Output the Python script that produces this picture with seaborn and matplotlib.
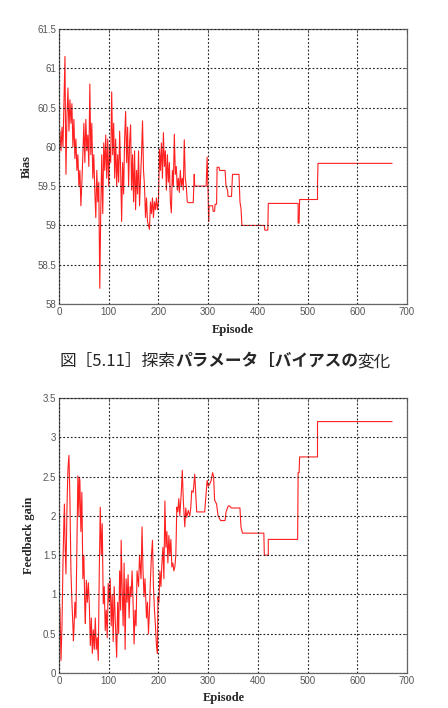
import numpy as np
import pandas as pd
import matplotlib
matplotlib.use('Agg')
import matplotlib.pyplot as plt
import seaborn as sns
from matplotlib.offsetbox import TextArea, HPacker, AnchoredOffsetbox

# Bias (top panel)
bias_ep = [0, 2, 4, 6, 8, 10, 12, 13, 14, 16, 18, 20, 22, 24, 26, 28, 30, 32, 34, 36,
           38, 40, 42, 44, 46, 48, 50, 52, 54, 56, 58, 60, 62, 64, 66, 68, 70, 72, 74, 76,
           78, 80, 82, 84, 86, 88, 90, 92, 94, 96, 98, 100, 102, 104, 106, 108, 110, 112, 114, 116,
           118, 120, 122, 124, 126, 128, 130, 132, 134, 136, 138, 140, 142, 144, 146, 148, 150, 152, 154, 156,
           158, 160, 162, 164, 166, 168, 170, 172, 174, 176, 178, 180, 182, 184, 186, 188, 190, 192, 194, 196,
           198, 200, 202, 204, 206, 208, 210, 212, 214, 216, 218, 220, 222, 224, 226, 228, 230, 232, 234, 236,
           238, 240, 242, 244, 246, 248, 250, 252, 254, 256, 258, 260, 270, 272, 273, 296, 298, 300, 301, 302,
           309, 310, 313, 314, 317, 318, 322, 323, 334, 336, 339, 340, 347, 349, 362, 364, 366, 368, 413, 414,
           420, 421, 481, 481, 483, 484, 520, 520, 521, 670]
bias_val = [59.9, 60.2, 59.95, 60.25, 60.0, 60.6, 61.15, 60.3, 59.65, 60.4, 60.75, 60.2, 60.6, 60.3, 60.55, 60.0, 60.35, 59.85, 60.1, 59.7,
            59.9, 59.5, 59.7, 59.25, 59.55, 59.9, 60.3, 59.8, 60.35, 59.95, 60.15, 59.75, 60.8, 59.9, 60.3, 59.6, 59.9, 59.45, 59.1, 59.7,
            59.3, 59.55, 58.2, 59.2, 59.9, 59.15, 60.05, 59.7, 60.15, 59.6, 60.1, 59.5, 60.0, 59.8, 60.7, 59.9, 60.3, 59.6, 60.1, 59.5,
            59.9, 59.55, 60.2, 59.7, 59.05, 59.8, 59.4, 60.1, 60.45, 59.8, 60.25, 59.5, 60.05, 60.28, 59.45, 59.9, 59.3, 59.95, 59.2, 59.7,
            59.4, 59.95, 59.25, 59.6, 59.9, 60.33, 59.7, 59.5, 59.1, 59.35, 59.05, 59.0, 58.95, 59.3, 59.15, 59.35, 59.1, 59.3, 59.2, 59.35,
            59.2, 59.3, 59.97, 59.7, 60.05, 59.6, 60.18, 59.75, 59.95, 59.45, 59.9, 59.55, 59.8, 59.3, 59.16, 59.7, 59.5, 60.16, 59.65, 59.75,
            59.45, 59.6, 59.42, 59.7, 59.5, 59.6, 59.45, 60.09, 59.6, 59.5, 59.3, 59.29, 59.29, 59.65, 59.5, 59.5, 59.87, 59.4, 59.05, 59.25,
            59.25, 59.18, 59.18, 59.27, 59.27, 59.74, 59.74, 59.7, 59.7, 59.5, 59.45, 59.37, 59.37, 59.65, 59.65, 59.3, 59.22, 59.0, 59.0, 58.94,
            58.94, 59.28, 59.28, 59.03, 59.03, 59.33, 59.33, 59.55, 59.79, 59.79]

# Feedback gain (bottom panel)
gain_ep = [0, 2, 4, 6, 8, 10, 11, 12, 14, 16, 18, 20, 22, 24, 26, 28, 29, 30, 32, 34,
           36, 38, 40, 41, 42, 44, 46, 48, 50, 52, 53, 55, 57, 59, 61, 63, 65, 67, 69, 71,
           73, 75, 77, 79, 81, 83, 85, 87, 89, 91, 93, 95, 97, 99, 101, 103, 105, 107, 109, 111,
           113, 115, 116, 118, 120, 122, 124, 125, 127, 129, 131, 133, 135, 137, 139, 141, 143, 145, 147, 149,
           151, 153, 155, 157, 160, 162, 165, 167, 169, 171, 173, 176, 178, 180, 182, 184, 186, 188, 190, 192,
           194, 196, 198, 199, 201, 203, 205, 207, 209, 211, 213, 215, 217, 219, 221, 223, 225, 227, 229, 231,
           233, 235, 237, 239, 241, 243, 246, 248, 250, 253, 255, 257, 260, 263, 265, 267, 270, 273, 275, 277,
           293, 296, 298, 300, 303, 306, 309, 311, 313, 317, 320, 325, 334, 336, 340, 342, 347, 364, 366, 369,
           412, 413, 421, 421, 480, 481, 483, 484, 520, 520, 670]
gain_val = [0.97, 0.8, 0.16, 0.6, 1.4, 1.98, 2.15, 1.7, 1.26, 2.1, 2.6, 2.77, 2.2, 1.3, 0.9, 0.6, 0.41, 0.54, 0.9, 0.7,
            1.6, 2.51, 2.0, 2.49, 2.45, 1.8, 2.3, 1.2, 1.5, 0.8, 0.63, 1.18, 0.9, 1.15, 0.88, 0.35, 0.7, 0.25, 0.55, 0.3,
            0.7, 0.3, 0.45, 0.16, 1.3, 2.11, 1.5, 1.9, 0.88, 1.1, 0.54, 0.8, 0.45, 1.14, 0.9, 1.2, 0.6, 1.0, 0.4, 1.1,
            0.7, 0.35, 0.2, 0.9, 0.5, 1.3, 0.8, 1.69, 1.1, 0.6, 1.4, 0.3, 1.2, 0.9, 1.25, 0.7, 1.1, 0.97, 1.3, 0.9,
            0.37, 0.8, 0.6, 1.3, 1.1, 1.5, 1.2, 1.86, 1.3, 0.97, 1.2, 0.7, 0.9, 0.5, 0.8, 1.2, 1.5, 1.69, 1.1, 0.8,
            0.6, 0.35, 0.25, 0.97, 0.9, 1.3, 1.1, 1.4, 1.6, 1.2, 2.19, 1.6, 1.8, 1.4, 1.75, 1.5, 1.7, 1.35, 1.4, 1.3,
            1.35, 1.5, 2.11, 2.05, 2.22, 2.0, 2.3, 2.58, 2.2, 1.86, 2.1, 1.98, 2.07, 2.0, 2.1, 2.32, 2.3, 2.53, 2.3, 2.05,
            2.05, 2.3, 2.45, 2.38, 2.4, 2.45, 2.55, 2.5, 2.2, 2.15, 2.0, 1.94, 1.94, 2.05, 2.12, 2.13, 2.1, 2.1, 1.86, 1.78,
            1.78, 1.5, 1.5, 1.7, 1.7, 2.55, 2.55, 2.75, 2.75, 3.2, 3.2]

x_ticks = [0, 100, 200, 300, 400, 500, 600, 700]
bias_ticks = [58, 58.5, 59, 59.5, 60, 60.5, 61, 61.5]
bias_labels = ['58', '58.5', '59', '59.5', '60', '60.5', '61', '61.5']
gain_ticks = [0, 0.5, 1, 1.5, 2, 2.5, 3, 3.5]
gain_labels = ['0', '0.5', '1', '1.5', '2', '2.5', '3', '3.5']

caption_parts = [('図［5.11］探索', 'normal'), ('パラメータ［バイアスの', 'bold'), ('変化', 'normal')]

sns.set_style('white')
plt.rcParams['font.family'] = ['Liberation Sans', 'DejaVu Sans']

fig = plt.figure(figsize=(4.48, 7.08), dpi=100)
ax1 = fig.add_axes([59 / 448, 1 - 304 / 708, 348 / 448, 275 / 708])
ax2 = fig.add_axes([59 / 448, 1 - 673 / 708, 348 / 448, 275 / 708])

df1 = pd.DataFrame({'Episode': bias_ep, 'Bias': bias_val})
df2 = pd.DataFrame({'Episode': gain_ep, 'Gain': gain_val})

sns.lineplot(data=df1, x='Episode', y='Bias', ax=ax1, color='#ff2020',
             linewidth=0.8, estimator=None, sort=False)
sns.lineplot(data=df2, x='Episode', y='Gain', ax=ax2, color='#ff2020',
             linewidth=0.8, estimator=None, sort=False)

label_font = dict(family=['Liberation Serif', 'DejaVu Serif'], weight='bold', size=9)

for ax, yt, yl, lim in [(ax1, bias_ticks, bias_labels, (58, 61.5)),
                        (ax2, gain_ticks, gain_labels, (0, 3.5))]:
    ax.set_xlim(0, 700)
    ax.set_ylim(*lim)
    ax.set_xticks(x_ticks)
    ax.set_xticklabels([str(t) for t in x_ticks])
    ax.set_yticks(yt)
    ax.set_yticklabels(yl)
    ax.grid(True, color='#222222', linestyle=(0, (1.6, 1.8)), linewidth=0.8)
    ax.tick_params(direction='in', length=3, width=0.6, labelsize=7,
                   labelcolor='#555555', color='#555555', pad=2,
                   top=True, right=True)
    for s in ax.spines.values():
        s.set_color('#666666')
        s.set_linewidth(0.9)
    ax.set_axisbelow(False)

ax1.set_xlabel('Episode', fontdict=label_font, labelpad=5)
ax1.set_ylabel('Bias', fontdict=label_font)
ax1.yaxis.set_label_coords(-26 / 348, 0.5)
ax2.set_xlabel('Episode', fontdict=label_font)
ax2.xaxis.set_label_coords((224 - 59) / 348, -19 / 275)
ax2.set_ylabel('Feedback gain', fontdict=label_font)
ax2.yaxis.set_label_coords(-24 / 348, 0.5)

boxes = [TextArea(t, textprops=dict(family=['Noto Sans CJK JP', 'DejaVu Sans'],
                                    weight=w, size=12)) for t, w in caption_parts]
pack = HPacker(children=boxes, pad=0, sep=0)
cap = AnchoredOffsetbox(loc='center', child=pack, frameon=False,
                        bbox_to_anchor=(225 / 448, 1 - 361 / 708),
                        bbox_transform=fig.transFigure, borderpad=0, pad=0)
fig.add_artist(cap)

fig.savefig('out.png', dpi=100)
